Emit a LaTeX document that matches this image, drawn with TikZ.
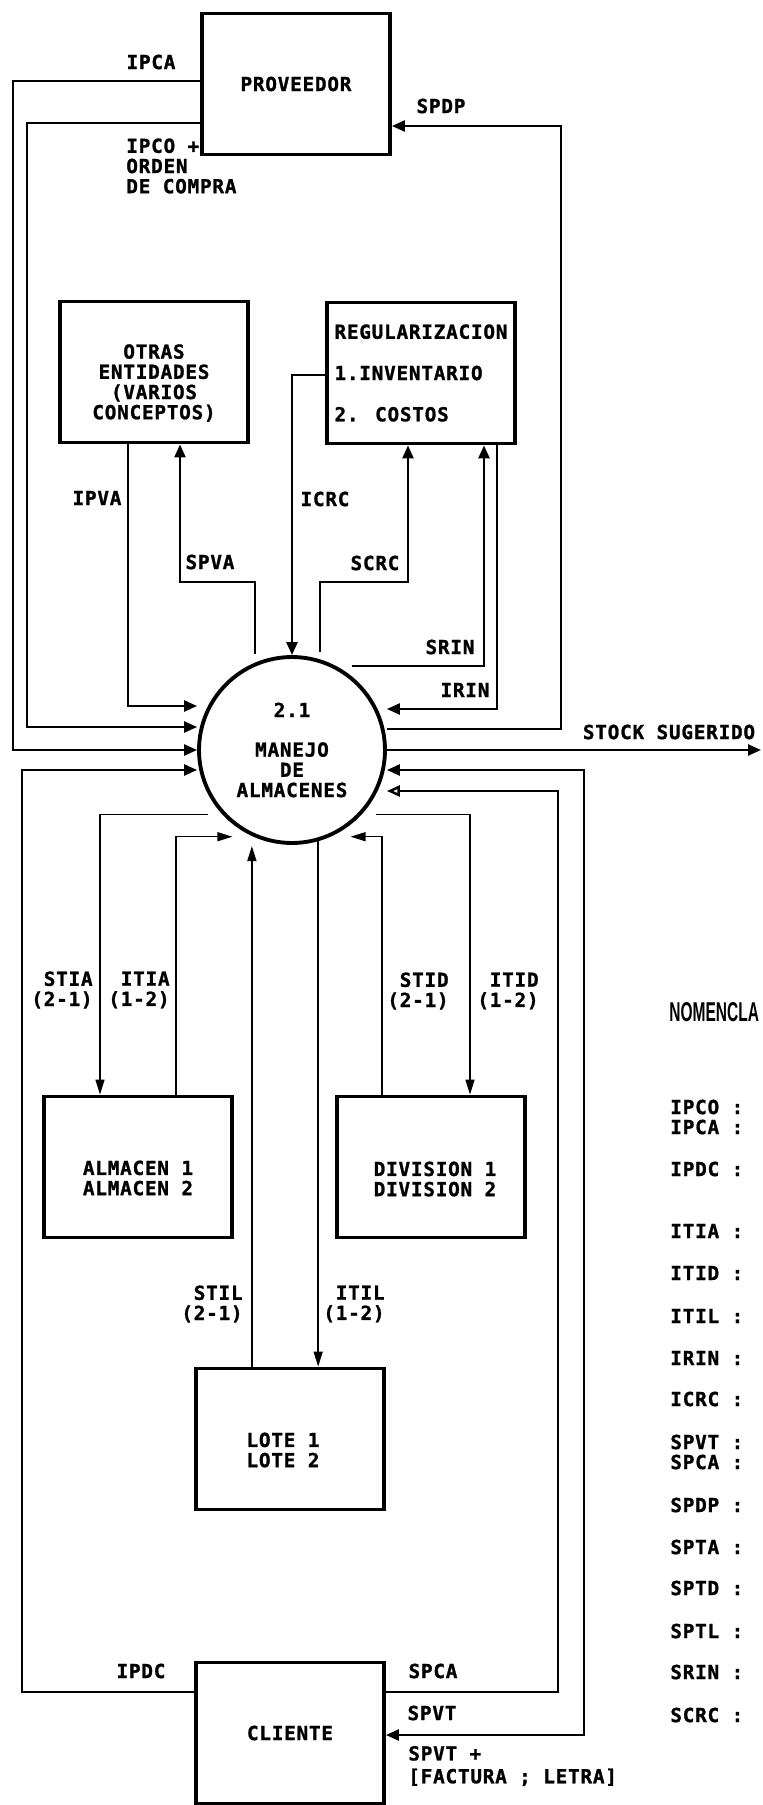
\documentclass[tikz,border=0pt]{standalone}
\usepackage{fontspec}
\setmainfont{DejaVu Sans Mono}[LetterSpace=4,BoldFeatures={FakeBold=1.2}]
\newfontfamily\nomfont{Liberation Sans}
\usetikzlibrary{arrows.meta}
\tikzset{
  ent/.style={draw,line width=2.2pt,minimum width=3.76cm,minimum height=2.82cm,align=center},
  proc/.style={draw,circle,line width=2.2pt,minimum size=3.72cm,inner sep=0pt,align=center},
  flow/.style={-{Triangle[length=2.6mm,width=2.2mm]},line width=1.4pt},
  oflow/.style={flow,-{Triangle[open,length=2.6mm,width=2.2mm]}},
  bflow/.style={flow,{Triangle[length=2.6mm,width=2.2mm]}-{Triangle[length=2.6mm,width=2.2mm]}},
  tflow/.style={-{Triangle[length=3mm,width=1.8mm]},line width=0.8pt},
  tag/.style={inner sep=0pt},
  tagr/.style={tag,align=right,anchor=east},
  code/.style={tag,anchor=west}
}

\begin{document}
\begin{tikzpicture}[x=0.02cm,y=-0.02cm,font=\fontsize{11}{11.5}\selectfont\bfseries]
  \useasboundingbox (0,0) rectangle (763,1805);

  % entidades y proceso
  \node[ent] (proveedor) at (296,84) {PROVEEDOR};
  \node[ent] (otras) at (154,372) {};
  \node[tag,align=center] (otrastxt) at (154,383) {OTRAS\\ENTIDADES\\(VARIOS\\CONCEPTOS)};
  \node[ent,align=left] (regul) at (421,373)
    {REGULARIZACION\\[12pt]1.INVENTARIO\\[12pt]2. COSTOS};
  \node[proc] (circ) at (292,750) {2.1\\[11pt]MANEJO\\DE\\ALMACENES};
  \node[ent] (almacen) at (138,1167) {};
  \node[tag,align=center] (almacentxt) at (138,1178) {ALMACEN 1\\ALMACEN 2};
  \node[ent] (division) at (431,1167) {};
  \node[tag,align=center] (divisiontxt) at (435,1179) {DIVISION 1\\DIVISION 2};
  \node[ent] (lote) at (290,1439) {};
  \node[tag,align=center] (lotetxt) at (283,1450) {LOTE 1\\LOTE 2};
  \node[ent] (cliente) at (290,1733) {CLIENTE};
  \coordinate (stockend) at (761,750);

  % flujos de arriba
  \draw[flow] (proveedor.west |- 0,81) -| (13,750) -- (circ.west);
  \draw[flow] (proveedor.west |- 0,123) -| (27,727) -- (circ.west |- 0,727);
  \draw[flow] (circ.east |- 0,729) -| (561,126) -- (proveedor.east |- 0,126);
  \draw[flow] (otras.south -| 128,0) |- (circ.west |- 0,706);
  \draw[flow,shorten <=0.18cm] (circ.113) |- (180,582) -- (otras.south -| 180,0);
  \draw[flow] (regul.west |- 0,375) -| (circ.north);
  \draw[flow,shorten <=0.14cm] (circ.73) |- (408,582) -- (regul.south -| 408,0);
  \draw[flow] (circ.51 |- 0,666) -| (regul.south -| 484,0);
  \draw[flow] (regul.south -| 497,0) |- (circ.east |- 0,709);
  \draw[flow] (circ.east) -- (stockend);

  % flujos de abajo
  \draw[tflow,shorten <=0.3cm] (circ.223) -| (almacen.north -| 100,0);
  \draw[tflow,shorten >=0.42cm] (almacen.north -| 176,0) |- (circ.246);
  \draw[tflow,shorten >=0.2cm] (lote.north -| circ.245) -- (circ.245);
  \draw[tflow] (circ.286) -- (lote.north -| circ.286);
  \draw[tflow,shorten >=0.4cm] (division.north -| 382,0) |- (circ.294);
  \draw[tflow,shorten <=0.3cm] (circ.317) -| (division.north -| 470,0);
  \draw[flow] (cliente.west |- 0,1692) -| (22,770) -- (circ.west |- 0,770);
  \draw[oflow] (cliente.east |- 0,1692) -| (558,791) -- (circ.east |- 0,791);
  \draw[bflow] (circ.east |- 0,770) -| (584,1735) -- (cliente.east |- 0,1735);

  % etiquetas
  \node[tag] (t-ipca) at (151,62) {IPCA};
  \node[tag,align=left,anchor=west] (t-ipco) at (126,166) {IPCO +\\ORDEN\\DE COMPRA};
  \node[tag] (t-spdp) at (441,106) {SPDP};
  \node[tag] (t-ipva) at (97,498) {IPVA};
  \node[tag] (t-spva) at (210,562) {SPVA};
  \node[tag] (t-icrc) at (325,499) {ICRC};
  \node[tag] (t-scrc) at (375,563) {SCRC};
  \node[tag] (t-srin) at (450,647) {SRIN};
  \node[tag] (t-irin) at (465,690) {IRIN};
  \node[tag] (t-stock) at (669,732) {STOCK SUGERIDO};
  \node[tagr] (t-stia) at (93,990) {STIA\\(2-1)};
  \node[tagr] (t-itia) at (170,990) {ITIA\\(1-2)};
  \node[tagr] (t-stid) at (449,991) {STID\\(2-1)};
  \node[tagr] (t-itid) at (539,991) {ITID\\(1-2)};
  \node[tagr] (t-stil) at (243,1304) {STIL\\(2-1)};
  \node[tagr] (t-itil) at (385,1304) {ITIL\\(1-2)};
  \node[tag] (t-ipdc) at (141,1671) {IPDC};
  \node[tag] (t-spca) at (433,1671) {SPCA};
  \node[tag] (t-spvt) at (432,1713) {SPVT};
  \node[tag,align=left,anchor=west] (t-fact) at (408,1766) {SPVT +\\[1.5pt]{[}FACTURA ; LETRA]};

  % nomenclatura
  \node[tag,anchor=west,font=\nomfont\bfseries\fontsize{15.5}{16}\selectfont] (t-nom)
    at (669,1012) {\scalebox{0.57}[1]{NOMENCLA}};
  \node[code] (n-ipco) at (670,1107) {IPCO :};
  \node[code] (n-ipca) at (670,1127) {IPCA :};
  \node[code] (n-ipdc) at (670,1169) {IPDC :};
  \node[code] (n-itia) at (670,1231) {ITIA :};
  \node[code] (n-itid) at (670,1273) {ITID :};
  \node[code] (n-itil) at (670,1316) {ITIL :};
  \node[code] (n-irin) at (670,1358) {IRIN :};
  \node[code] (n-icrc) at (670,1399) {ICRC :};
  \node[code] (n-spvt) at (670,1442) {SPVT :};
  \node[code] (n-spca) at (670,1462) {SPCA :};
  \node[code] (n-spdp) at (670,1505) {SPDP :};
  \node[code] (n-spta) at (670,1547) {SPTA :};
  \node[code] (n-sptd) at (670,1588) {SPTD :};
  \node[code] (n-sptl) at (670,1631) {SPTL :};
  \node[code] (n-srin) at (670,1672) {SRIN :};
  \node[code] (n-scrc) at (670,1715) {SCRC :};
\end{tikzpicture}
\end{document}
